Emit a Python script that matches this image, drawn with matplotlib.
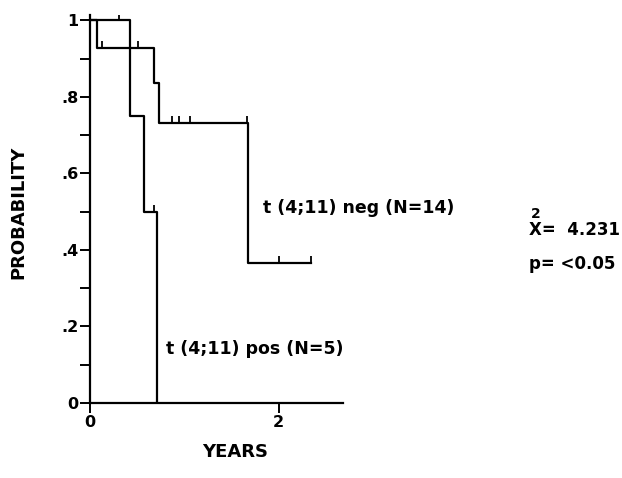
import matplotlib.pyplot as plt
from matplotlib.ticker import MultipleLocator

plt.rcParams['font.family'] = ['DejaVu Sans']
plt.rcParams['font.weight'] = 'bold'

# Kaplan-Meier curves (years, probability)
neg_t = [0, 0.07, 0.68, 0.73, 1.675, 2.34]
neg_s = [1.0, 0.929, 0.836, 0.732, 0.366, 0.366]
neg_cens_t = [0.13, 0.51, 0.87, 0.94, 1.06, 1.66, 2.0, 2.34]
neg_cens_s = [0.929, 0.929, 0.732, 0.732, 0.732, 0.732, 0.366, 0.366]

pos_t = [0, 0.42, 0.57, 0.705]
pos_s = [1.0, 0.75, 0.5, 0.0]
pos_cens_t = [0.31, 0.68]
pos_cens_s = [1.0, 0.5]

yticks = [0, 0.2, 0.4, 0.6, 0.8, 1.0]
ytick_labels = ["0", ".2", ".4", ".6", ".8", "1"]

fig = plt.figure(figsize=(6.22, 4.78), dpi=100)
ax = fig.add_axes([90 / 622, 75 / 478, 253 / 622, 388 / 478])

ax.step(neg_t, neg_s, where='post', color='black', lw=1.6)
ax.step(pos_t, pos_s, where='post', color='black', lw=1.6)
ax.plot(neg_cens_t, neg_cens_s, ls='none', marker=2, ms=5, mew=1.3, color='black')
ax.plot(pos_cens_t, pos_cens_s, ls='none', marker=2, ms=5, mew=1.3, color='black')

ax.set_xlim(0, 2.68)
ax.set_ylim(0, 1.014)
ax.set_xticks([0, 2])
ax.set_xticklabels(["0", "2"])
ax.set_yticks(yticks)
ax.set_yticklabels(ytick_labels)
ax.yaxis.set_minor_locator(MultipleLocator(0.1))
ax.tick_params(axis='both', which='both', direction='out', width=1.4, labelsize=11.5, color='black')
ax.tick_params(axis='y', which='both', length=7, pad=1.5)
ax.tick_params(axis='x', length=7, pad=1.5)

for side in ['top', 'right']:
    ax.spines[side].set_visible(False)
for side in ['left', 'bottom']:
    ax.spines[side].set_linewidth(1.6)

fig.text(18 / 622, 1 - 212 / 478, "PROBABILITY", fontsize=13, fontweight='bold',
         rotation=90, va='center', ha='center')
fig.text(235 / 622, 1 - 452 / 478, "YEARS", fontsize=13, fontweight='bold', va='center', ha='center')

ax.text(1.83, 0.51, "t (4;11) neg (N=14)", fontsize=12.5, fontweight='bold', va='center', ha='left')
ax.text(0.8, 0.14, "t (4;11) pos (N=5)", fontsize=12.5, fontweight='bold', va='center', ha='left')

fig.text(529 / 622, 1 - 230 / 478, "X=  4.231", fontsize=12, fontweight='bold', va='center', ha='left')
fig.text(536 / 622, 1 - 214 / 478, "2", fontsize=10, fontweight='bold', va='center', ha='center')
fig.text(529 / 622, 1 - 264 / 478, "p= <0.05", fontsize=12, fontweight='bold', va='center', ha='left')

fig.savefig("out.png", dpi=100)
